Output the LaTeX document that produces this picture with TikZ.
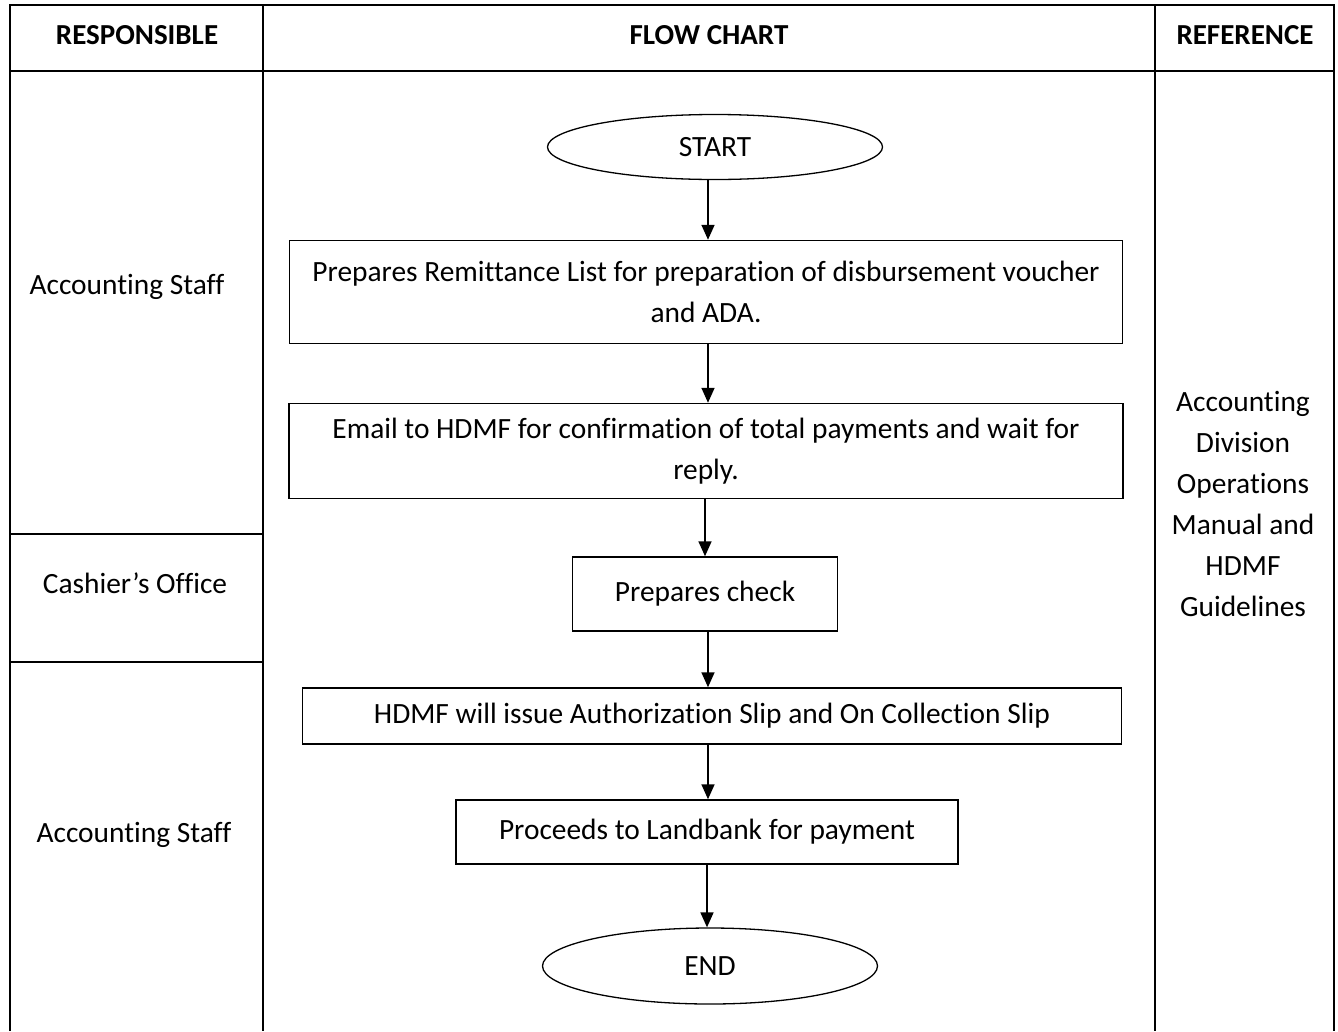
\documentclass[tikz,border=0pt]{standalone}
\usepackage{fontspec}
\setmainfont{Carlito}[Ligatures = NoCommon]
\usetikzlibrary{shapes.geometric,arrows.meta}

\tikzset{
	txt/.style = {font = \fontsize{29.4}{41}\selectfont, align = center},
	head/.style = {font = \fontsize{29}{32}\selectfont\bfseries},
	stepbox/.style = {txt, draw, line width = 1.5pt, inner sep = 0pt},
	term/.style = {txt, draw, ellipse, line width = 1.3pt, inner sep = 0pt,
		minimum width = 335pt},
	flow/.style = {-{Triangle[width = 13pt, length = 15pt]}, line width = 1.7pt},
	grid/.style = {line width = 1.6pt}
}

\begin{document}
\begin{tikzpicture} [x = 1pt, y = -1pt]
	\useasboundingbox (0,0) rectangle (1338,1031);
	% table
	\draw [grid] (10,1031) -- (10,5) -- (1334,5) -- (1334,1031);
	\draw [grid] (10,71) -- (1334,71);
	\draw [grid] (263,5) -- (263,1031);
	\draw [grid] (1155,5) -- (1155,1031);
	\draw [grid] (10,534) -- (263,534);
	\draw [grid] (10,662) -- (263,662);
	% headings
	\node (hresp) [head] at (137,35) {RESPONSIBLE};
	\node (hflow) [head] at (709,35) {FLOW CHART};
	\node (href) [head] at (1245,35) {REFERENCE};
	% responsible and reference
	\node (acct1) [txt] at (127,287) {Accounting Staff};
	\node (cash) [txt] at (135,583) {Cashier’s Office};
	\node (acct2) [txt] at (134,835) {Accounting Staff};
	\node (ref) [txt] at (1243,504) {Accounting\\Division\\Operations\\Manual and\\HDMF\\Guidelines};
	% flow chart
	\coordinate (ax) at (708,0);
	\node (start) [term, minimum height = 65pt] at (715,147) {START};
	\node (remit) [stepbox, minimum width = 833pt, minimum height = 103pt] at (706,292)
		{Prepares Remittance List for preparation of disbursement voucher\\and ADA.};
	\node (email) [stepbox, minimum width = 834pt, minimum height = 95pt] at (706,451)
		{Email to HDMF for confirmation of total payments and wait for\\reply.};
	\node (check) [stepbox, minimum width = 265pt, minimum height = 74pt] at (705,594)
		{Prepares check};
	\node (slip) [stepbox, minimum width = 819pt, minimum height = 56pt] at (712,716)
		{HDMF will issue Authorization Slip and On Collection Slip};
	\node (bank) [stepbox, minimum width = 502pt, minimum height = 64pt] at (707,832)
		{Proceeds to Landbank for payment};
	\node (end) [term, minimum height = 76pt] at (710,966) {END};
	% arrows
	\draw [flow] (start.south -| ax) -- (remit.north -| ax);
	\draw [flow] (remit.south -| ax) -- (email.north -| ax);
	\draw [flow] (email.south -| check) -- (check.north);
	\draw [flow] (check.south -| ax) -- (slip.north -| ax);
	\draw [flow] (slip.south -| ax) -- (bank.north -| ax);
	\draw [flow] (bank.south) -- (bank.south |- end.north);
\end{tikzpicture}
\end{document}
